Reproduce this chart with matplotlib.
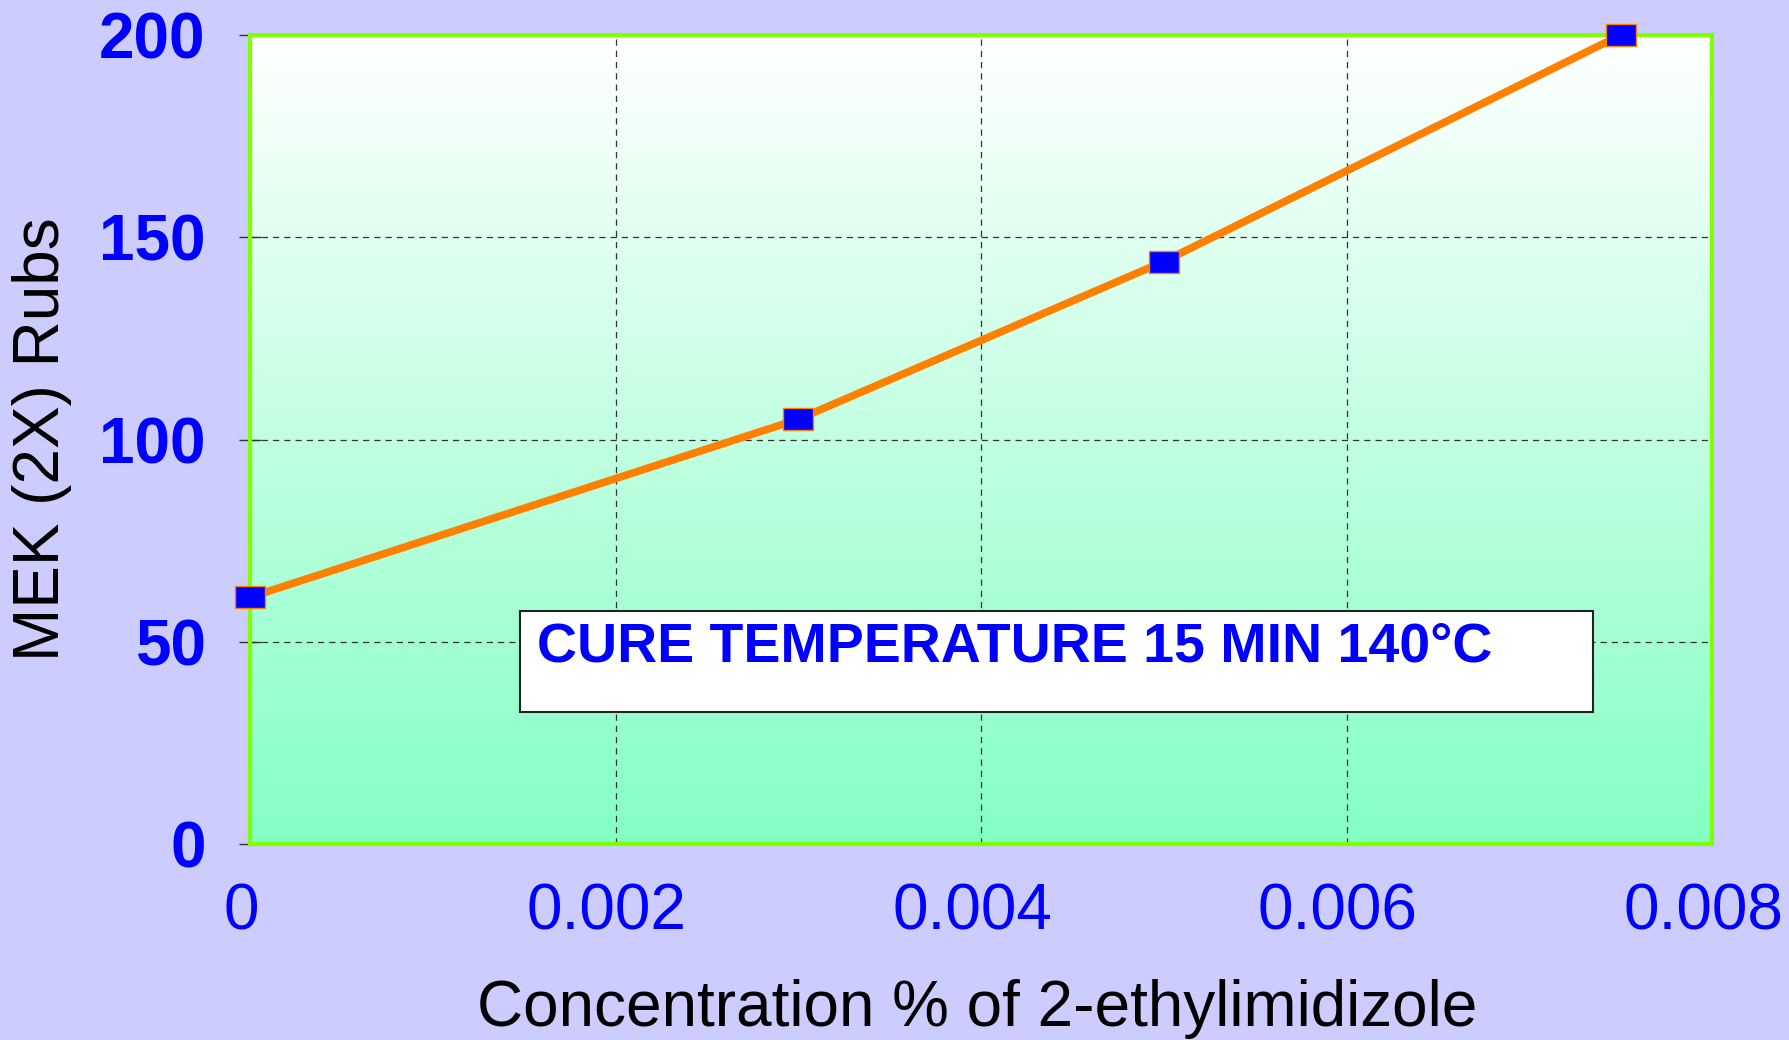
import matplotlib
matplotlib.use("Agg")
import matplotlib.pyplot as plt
import numpy as np
from matplotlib.patches import Rectangle
from matplotlib.colors import LinearSegmentedColormap
from matplotlib.path import Path
from matplotlib.transforms import ScaledTranslation

# Data
concentration = [0.0, 0.003, 0.005, 0.0075]
mek_rubs = [61, 105, 144, 200]
x_ticks = [0, 0.002, 0.004, 0.006, 0.008]
x_tick_labels = ["0", "0.002", "0.004", "0.006", "0.008"]
y_ticks = [0, 50, 100, 150, 200]
y_tick_labels = ["0", "50", "100", "150", "200"]
annotation = "CURE TEMPERATURE 15 MIN 140°C"
x_label = "Concentration % of 2-ethylimidizole"
y_label = "MEK (2X) Rubs"

plt.rcParams['font.family'] = ['Liberation Sans', 'DejaVu Sans']

fig = plt.figure(figsize=(17.89, 10.40), dpi=100, facecolor="#CCCCFF")
ax = fig.add_axes([250/1789, 1-844/1040, (1712-250)/1789, (844-35)/1040])

# gradient background (white top -> light green bottom)
cmap = LinearSegmentedColormap.from_list("g", ["#FFFFFF", "#84FFC4"])
grad = np.linspace(0, 1, 256).reshape(-1, 1)
ax.imshow(grad, aspect="auto", cmap=cmap, extent=[0, 1, 0, 1], origin="upper",
          transform=ax.transAxes, zorder=0)

ax.set_xlim(0, 0.008)
ax.set_ylim(0, 200)

ax.grid(True, color="#333333", linestyle=(0, (5, 4)), linewidth=0.9, zorder=1)

rect_marker = Path([(-1, -0.75), (1, -0.75), (1, 0.75), (-1, 0.75), (-1, -0.75)],
                   [Path.MOVETO, Path.LINETO, Path.LINETO, Path.LINETO, Path.CLOSEPOLY])
ax.plot(concentration, mek_rubs, color="#FF8000", linewidth=5.5, zorder=3,
        marker=rect_marker, markersize=21, markerfacecolor="#0000FF",
        markeredgecolor="#FF8000", markeredgewidth=1.0, clip_on=False)

for s in ax.spines.values():
    s.set_color("#80FF00")
    s.set_linewidth(3)
    s.set_zorder(2)

ax.set_xticks(x_ticks)
ax.set_xticklabels(x_tick_labels, color="#0000FF", fontsize=46)
ax.set_yticks(y_ticks)
ax.set_yticklabels(y_tick_labels, color="#0000FF", fontsize=46, fontweight="bold")
ax.tick_params(axis="y", direction="inout", length=16, width=1, color="#333333", pad=24)
ax.tick_params(axis="x", direction="in", length=0, pad=28)
for lab in ax.get_xticklabels():
    lab.set_transform(lab.get_transform() + ScaledTranslation(-9/100, 0, fig.dpi_scale_trans))

fig.text(977/1789, 1-1009/1040, x_label, fontsize=46, color="black",
         ha="center", va="center")
fig.text(42/1789, 1-439/1040, y_label, fontsize=46, color="black",
         ha="center", va="center", rotation=90)

# annotation box
rect = Rectangle((0.001475, 32.7), 0.00735 - 0.001475, 57.5 - 32.7,
                 facecolor="white", edgecolor="#222222", linewidth=1.5, zorder=4)
ax.add_patch(rect)
ax.text(0.00157, 48.5, annotation, fontsize=40, fontweight="bold", color="#0000FF",
        ha="left", va="center", zorder=5)

fig.savefig("out.png", dpi=100, facecolor=fig.get_facecolor())
